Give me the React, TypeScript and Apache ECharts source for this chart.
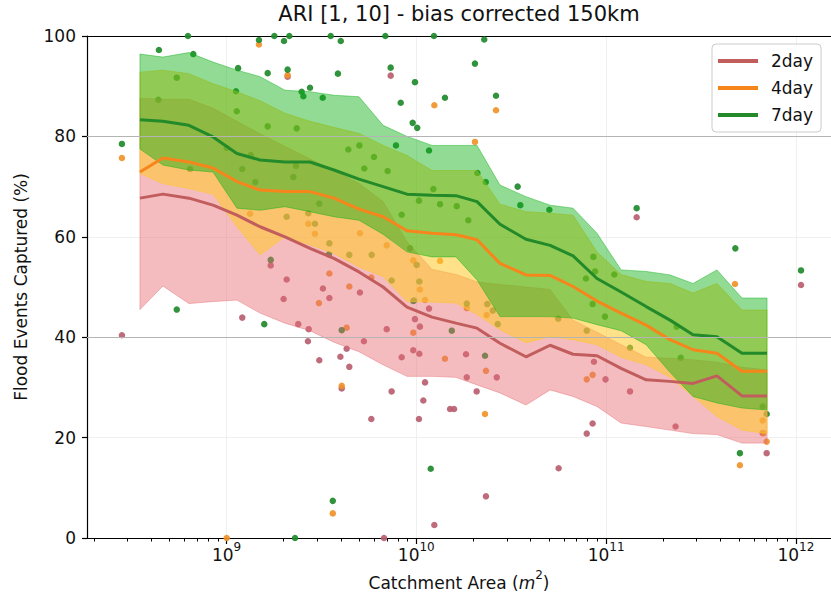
import { useEffect, useRef } from 'react';
import * as echarts from 'echarts';

// x values are log10 of catchment area (m^2)
const binLogArea = [8.544, 8.665, 8.802, 8.929, 9.055, 9.177, 9.308, 9.44, 9.566, 9.698, 9.825, 9.951, 10.083, 10.209, 10.32, 10.441, 10.578, 10.705, 10.826, 10.952, 11.079, 11.211, 11.337, 11.458, 11.584, 11.716, 11.848];

const median2day = [67.7, 68.5, 67.7, 66.3, 64.3, 62.0, 60.0, 57.7, 55.7, 53.0, 50.0, 46.0, 44.0, 42.8, 41.8, 38.8, 36.1, 38.4, 36.6, 36.3, 33.8, 31.5, 31.2, 30.8, 32.3, 28.3, 28.3];
const median4day = [72.9, 75.7, 74.9, 73.7, 71.0, 69.3, 69.0, 69.0, 67.7, 65.5, 64.0, 61.2, 60.7, 60.4, 59.4, 54.7, 52.4, 52.3, 50.1, 47.2, 44.8, 42.4, 39.5, 37.5, 36.8, 33.2, 33.2];
const median7day = [83.3, 83.0, 82.2, 79.9, 76.6, 75.3, 74.9, 74.9, 73.3, 71.5, 70.0, 68.5, 68.3, 68.2, 67.0, 62.5, 59.5, 58.3, 56.2, 51.7, 49.0, 46.1, 43.4, 40.5, 40.1, 36.8, 36.8];

const upper2day = [87.6, 87.4, 87.4, 85.6, 83.0, 80.5, 78.0, 75.5, 73.2, 70.6, 67.0, 59.0, 53.5, 52.5, 51.0, 50.5, 50.0, 49.5, 43.4, 41.0, 38.5, 36.0, 35.8, 35.5, 35.0, 34.0, 33.5];
const lower2day = [45.5, 50.2, 46.7, 47.1, 47.4, 44.8, 42.8, 41.3, 39.0, 37.1, 34.5, 32.2, 32.2, 32.0, 30.5, 28.9, 26.5, 29.5, 28.2, 26.2, 22.9, 22.2, 21.5, 20.8, 20.6, 18.9, 18.9];
const upper4day = [92.8, 93.2, 92.5, 90.5, 88.9, 87.1, 84.6, 83.0, 81.8, 80.6, 78.2, 76.2, 73.2, 73.2, 73.2, 66.5, 65.0, 64.7, 64.3, 57.0, 52.5, 51.1, 50.7, 48.8, 50.7, 45.4, 45.4];
const lower4day = [72.6, 70.6, 69.6, 68.5, 62.0, 56.4, 60.0, 58.4, 56.7, 54.0, 52.1, 47.1, 47.0, 46.8, 44.5, 41.5, 38.9, 40.1, 39.5, 38.5, 36.0, 34.5, 32.0, 28.2, 24.2, 21.5, 20.8];
const upper7day = [96.4, 95.8, 96.7, 94.8, 93.2, 91.9, 89.2, 88.9, 88.2, 87.9, 82.2, 80.0, 78.2, 78.2, 78.2, 70.3, 68.0, 66.3, 65.7, 60.7, 53.4, 53.1, 52.4, 50.7, 53.4, 47.8, 47.8];
const lower7day = [77.5, 74.3, 73.3, 72.9, 65.7, 65.3, 66.0, 65.0, 64.0, 63.3, 60.5, 57.0, 56.0, 56.0, 51.4, 44.1, 44.1, 44.1, 43.8, 42.5, 41.3, 38.5, 33.0, 28.2, 26.9, 25.9, 25.5];

// individual catchments: [log10 area, % captured]
const points2day: number[][] = [
  [8.449, 40.4], [9.322, 91.9], [9.865, 92.1], [11.161, 63.9], [12.027, 50.4], [11.825, 20.9], [11.846, 16.9],
  [11.366, 22.2], [11.126, 29.2], [10.997, 31.6], [10.929, 22.8], [10.898, 20.8], [10.75, 13.9], [10.936, 35.1],
  [10.367, 8.3], [10.095, 2.6], [10.178, 25.7], [10.199, 25.7], [10.014, 23.7], [10.037, 27.4], [10.046, 31.0],
  [10.318, 29.2], [10.424, 32.0], [10.266, 32.0], [9.083, 43.9], [9.378, 42.6], [9.433, 41.6], [9.429, 39.2],
  [9.489, 35.4], [9.633, 37.7], [9.6, 36.1], [9.647, 34.1], [9.607, 29.8], [9.724, 39.2], [9.763, 23.7],
  [9.87, 29.2], [9.923, 36.0], [9.984, 37.4], [10.016, 36.7], [9.83, 0.0], [9.317, 51.5], [9.301, 47.6],
  [9.508, 49.7], [9.542, 47.8], [9.703, 48.9], [9.844, 41.6], [9.993, 43.6], [10.067, 45.7], [9.233, 54.3],
  [10.262, 36.6], [10.019, 42.1],
];
const points4day: number[][] = [
  [8.449, 75.7], [9.171, 98.3], [9.322, 92.2], [10.095, 86.2], [10.42, 85.2], [10.309, 78.9], [11.679, 50.6],
  [11.825, 23.4], [11.846, 19.2], [11.705, 14.5], [10.898, 31.6], [10.929, 32.5], [10.362, 24.7], [10.367, 33.3],
  [10.151, 35.7], [9.633, 41.9], [9.607, 30.3], [9.56, 4.9], [9.001, 0.0], [9.487, 46.8], [9.542, 52.7],
  [9.647, 50.1], [9.763, 51.9], [9.984, 40.9], [9.703, 60.7], [9.844, 58.3], [9.984, 55.3], [10.125, 55.2],
  [10.019, 49.5], [10.046, 47.4], [10.266, 45.8], [10.371, 44.4], [9.431, 62.6], [9.466, 60.6], [9.124, 64.6],
  [11.829, 20.9],
];
const points7day: number[][] = [
  [8.449, 78.5], [8.644, 97.2], [8.825, 96.4], [8.738, 91.7], [8.797, 100], [9.171, 99.2], [9.252, 100],
  [9.303, 99.0], [9.331, 100], [9.061, 93.6], [9.217, 92.6], [9.322, 93.3], [9.549, 100], [9.602, 99.0],
  [9.587, 92.5], [9.44, 89.7], [9.396, 88.9], [9.405, 88.0], [9.507, 87.7], [9.837, 100], [10.093, 100],
  [9.865, 93.7], [9.993, 90.8], [9.918, 86.7], [9.981, 82.7], [10.005, 81.7], [10.067, 77.2], [10.358, 99.3],
  [10.309, 94.5], [10.151, 87.7], [10.42, 88.1], [10.534, 70.0], [11.161, 65.7], [11.681, 57.7], [12.027, 53.3],
  [11.825, 26.2], [11.846, 24.7], [11.705, 16.9], [11.126, 37.9], [10.076, 13.8], [8.738, 45.5], [9.199, 42.6],
  [9.607, 41.4], [9.56, 7.4], [9.361, 0.0], [9.87, 51.3], [10.016, 51.1], [9.984, 47.2], [10.322, 72.7],
  [10.366, 70.9], [10.701, 65.4], [10.548, 66.3], [9.642, 77.4], [9.7, 78.2], [9.777, 75.9], [9.893, 78.2],
  [9.726, 73.6], [9.849, 73.1], [10.09, 69.5], [10.014, 67.2], [9.923, 64.4], [10.125, 66.5], [10.213, 66.1],
  [10.274, 63.3], [9.967, 57.7], [10.002, 54.4], [9.647, 56.4], [9.765, 56.4], [9.988, 47.3], [10.266, 46.7],
  [10.374, 46.6], [10.403, 45.3], [10.429, 42.6], [10.187, 41.3], [10.362, 36.3], [10.933, 56.0], [10.942, 53.1],
  [10.894, 51.7], [11.043, 52.5], [10.929, 46.6], [10.994, 44.1], [10.748, 43.7], [10.898, 41.3], [11.372, 42.1],
  [11.393, 35.9], [9.05, 89.0], [8.641, 87.3], [9.054, 85.0], [9.217, 82.0], [9.001, 77.7], [9.083, 73.5],
  [8.808, 73.5], [9.152, 70.9], [9.128, 76.3], [9.37, 81.6], [9.366, 74.1], [9.352, 71.9], [9.489, 66.6],
  [9.431, 64.7], [9.466, 62.6], [9.317, 64.0], [9.542, 58.7], [9.54, 56.5], [9.233, 55.4],
];

const majorTicks = [9, 10, 11, 12];
const minorMultipliers = [2, 3, 4, 5, 6, 7, 8, 9];
const decades = [8, 9, 10, 11, 12];
const yGridHighlight = [40, 80];

const seriesNames = ['2day', '4day', '7day'];
const lineColors = ['#c25d5e', '#f6861c', '#238a2a'];
const pointColors = ['#b95e70', '#f0922a', '#1f8a2b'];
const bandFills = ['rgba(231,106,114,0.45)', 'rgba(255,200,40,0.55)', 'rgba(10,175,20,0.45)'];

const FONT = 'DejaVu Sans';
const X_MIN = 8.265;
const X_MAX = 12.185;

export default function App() {
  const ref = useRef<HTMLDivElement>(null);

  useEffect(() => {
    document.body.style.margin = '0';
    const chart = echarts.init(ref.current as HTMLDivElement, null, { renderer: 'svg' });

    const minorTicks: number[] = [];
    decades.forEach((d) => {
      minorMultipliers.forEach((m) => {
        const v = d + Math.log10(m);
        if (v > X_MIN && v < X_MAX) minorTicks.push(v);
      });
    });

    const medians = [median2day, median4day, median7day];
    const uppers = [upper2day, upper4day, upper7day];
    const lowers = [lower2day, lower4day, lower7day];
    const pts = [points2day, points4day, points7day];

    const scatterSeries = pts.map((p, k) => ({
      type: 'scatter',
      data: p,
      symbolSize: 6.5,
      z: 1,
      silent: true,
      itemStyle: { color: pointColors[k], opacity: 0.92 },
      ...(k === 0
        ? {
            markLine: {
              silent: true,
              symbol: 'none',
              label: { show: false },
              lineStyle: { color: '#b4b4b4', width: 1, type: 'solid' },
              data: yGridHighlight.map((v) => ({ yAxis: v })),
            },
          }
        : {}),
    }));

    const bandSeries = [0, 1, 2].map((k) => ({
      type: 'custom',
      z: 2,
      silent: true,
      clip: true,
      data: [[binLogArea[0], uppers[k][0]]],
      encode: { x: 0, y: 1 },
      renderItem: (_params: any, api: any) => {
        const poly: number[][] = [];
        for (let i = 0; i < binLogArea.length; i++) poly.push(api.coord([binLogArea[i], uppers[k][i]]));
        for (let i = binLogArea.length - 1; i >= 0; i--) poly.push(api.coord([binLogArea[i], lowers[k][i]]));
        return {
          type: 'polygon',
          shape: { points: poly },
          style: { fill: bandFills[k], stroke: bandFills[k], lineWidth: 1 },
        };
      },
    }));

    const lineSeries = [0, 1, 2].map((k) => ({
      type: 'line',
      name: seriesNames[k],
      data: binLogArea.map((x, i) => [x, medians[k][i]]),
      showSymbol: false,
      symbol: 'none',
      z: 3,
      silent: true,
      lineStyle: { color: lineColors[k], width: 3 },
      itemStyle: { color: lineColors[k] },
    }));

    const option: any = {
      animation: false,
      title: {
        text: 'ARI [1, 10] - bias corrected 150km',
        left: 459,
        top: 3,
        textAlign: 'center',
        padding: 0,
        textStyle: { fontFamily: FONT, fontSize: 21, fontWeight: 'normal', color: '#111' },
      },
      grid: { left: 87, right: 0, top: 36, bottom: 62, containLabel: false },
      legend: {
        orient: 'vertical',
        left: 712,
        top: 44,
        itemWidth: 40,
        itemHeight: 4,
        itemGap: 7,
        padding: [7, 8, 7, 6],
        backgroundColor: 'rgba(255,255,255,0.85)',
        borderColor: '#cccccc',
        borderWidth: 1,
        borderRadius: 4,
        selectedMode: false,
        textStyle: { fontFamily: FONT, fontSize: 17, color: '#111', lineHeight: 20, padding: [0, 0, 0, 8] },
        data: seriesNames.map((n) => ({ name: n, icon: 'rect' })),
      },
      xAxis: [
        {
          type: 'value',
          min: X_MIN,
          max: X_MAX,
          position: 'bottom',
          name: '{n|Catchment Area (}{i|m}{s|2}{n|)}',
          nameLocation: 'middle',
          nameGap: 31,
          nameTextStyle: {
            rich: {
              n: { fontFamily: FONT, fontSize: 17, color: '#111', lineHeight: 22, verticalAlign: 'bottom' },
              i: { fontFamily: FONT, fontSize: 17, color: '#111', fontStyle: 'italic', lineHeight: 22, verticalAlign: 'bottom' },
              s: { fontFamily: FONT, fontSize: 12, color: '#111', lineHeight: 12, verticalAlign: 'top' },
            },
          },
          axisLine: { show: true, lineStyle: { color: '#000', width: 1.2 } },
          axisTick: { show: true, customValues: majorTicks, length: 6, lineStyle: { color: '#000', width: 1.2 } },
          axisLabel: {
            show: true,
            customValues: majorTicks,
            margin: 3,
            formatter: (v: number) => '{b|10}{s|' + Math.round(v) + '}',
            rich: {
              b: { fontFamily: FONT, fontSize: 17, color: '#111', lineHeight: 22, verticalAlign: 'bottom' },
              s: { fontFamily: FONT, fontSize: 12, color: '#111', lineHeight: 12, verticalAlign: 'top' },
            },
          },
          splitLine: { show: true, lineStyle: { color: '#f0f0f0', width: 1 } },
        },
        {
          type: 'value',
          min: X_MIN,
          max: X_MAX,
          position: 'bottom',
          axisLine: { show: false },
          axisTick: { show: true, customValues: minorTicks, length: 3.5, lineStyle: { color: '#000', width: 1 } },
          axisLabel: { show: false },
          splitLine: { show: false },
        },
        {
          type: 'value',
          min: X_MIN,
          max: X_MAX,
          position: 'top',
          axisLine: { show: true, lineStyle: { color: '#000', width: 1.2 } },
          axisTick: { show: false },
          axisLabel: { show: false },
          splitLine: { show: false },
        },
      ],
      yAxis: {
        type: 'value',
        min: 0,
        max: 100,
        interval: 20,
        name: 'Flood Events Captured (%)',
        nameLocation: 'middle',
        nameGap: 58,
        nameTextStyle: { fontFamily: FONT, fontSize: 17, color: '#111' },
        axisLine: { show: true, lineStyle: { color: '#000', width: 1.2 } },
        axisTick: { show: true, length: 5, lineStyle: { color: '#000', width: 1.2 } },
        axisLabel: { fontFamily: FONT, fontSize: 17, color: '#111', margin: 11 },
        splitLine: { show: true, lineStyle: { color: '#f0f0f0', width: 1 } },
      },
      series: [...scatterSeries, ...bandSeries, ...lineSeries],
    };

    chart.setOption(option);
    return () => chart.dispose();
  }, []);

  return <div ref={ref} style={{ width: 831, height: 600 }} />;
}
